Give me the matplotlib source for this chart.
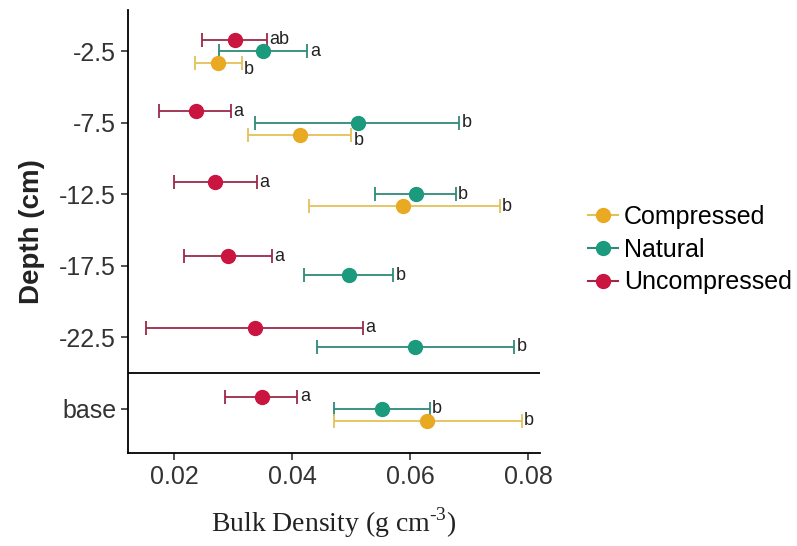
import numpy as np
import matplotlib
matplotlib.use('Agg')
import matplotlib.pyplot as plt
from matplotlib.lines import Line2D

nan = np.nan

depths = ['-2.5', '-7.5', '-12.5', '-17.5', '-22.5', 'base']
depth_pos = [-2.5, -7.5, -12.5, -17.5, -22.5, -27.5]

comp_mean = [0.0275, 0.0413, 0.0588, nan, nan, 0.0628]
comp_low = [0.0235, 0.0325, 0.0429, nan, nan, 0.0471]
comp_high = [0.0315, 0.0500, 0.0752, nan, nan, 0.0789]
comp_letters = ['b', 'b', 'b', '', '', 'b']

nat_mean = [0.0351, 0.0511, 0.0610, 0.0497, 0.0608, 0.0553]
nat_low = [0.0277, 0.0338, 0.0540, 0.0420, 0.0443, 0.0471]
nat_high = [0.0426, 0.0683, 0.0677, 0.0571, 0.0776, 0.0633]
nat_letters = ['a', 'b', 'b', 'b', 'b', 'b']

unc_mean = [0.0303, 0.0238, 0.0269, 0.0292, 0.0337, 0.0349]
unc_low = [0.0248, 0.0175, 0.0200, 0.0217, 0.0152, 0.0287]
unc_high = [0.0357, 0.0297, 0.0340, 0.0366, 0.0520, 0.0409]
unc_letters = ['ab', 'a', 'a', 'a', 'a', 'a']

x_ticks = [0.02, 0.04, 0.06, 0.08]

# (name, mean, low, high, letters, point colour, bar colour), top to bottom in each group
series = [
    ('Uncompressed', unc_mean, unc_low, unc_high, unc_letters, '#C9153F', '#9A2A4A'),
    ('Natural', nat_mean, nat_low, nat_high, nat_letters, '#1B9A7D', '#2E8A7A'),
    ('Compressed', comp_mean, comp_low, comp_high, comp_letters, '#E9A921', '#E3C15A'),
]

plt.rcParams['font.family'] = ['Liberation Sans', 'DejaVu Sans']

fig = plt.figure(figsize=(7.97, 5.46), dpi=100)
ax = fig.add_axes([0.1606, 0.1703, 0.5169, 0.8114])

for i, yc in enumerate(depth_pos):
    present = [s for s in series if not np.isnan(s[1][i])]
    n = len(present)
    step = 0.83 if n == 3 else 1.32
    for k, (name, m, lo, hi, let, pc, bc) in enumerate(present):
        y = yc + (n - 1) / 2 * step - k * step
        ax.errorbar([m[i]], [y], xerr=[[m[i] - lo[i]], [hi[i] - m[i]]],
                    fmt='none', ecolor=bc, elinewidth=1.3, capsize=5, capthick=1.3, zorder=2)
        ax.plot([m[i]], [y], 'o', color=pc, markersize=10, zorder=3)
        # push the letter down a bit if the bar above runs past it
        ty = y
        if k > 0 and present[k - 1][3][i] > hi[i]:
            ty = y - 0.4
        ax.text(hi[i] + 0.0004, ty, let[i], fontsize=13, va='center', ha='left', color='#222222')

ax.axhline(-25, color='black', linewidth=1.3)

ax.set_ylim(-30.6, 0.4)
ax.set_xlim(0.0122, 0.082)
ax.set_yticks(depth_pos)
ax.set_yticklabels(depths)
ax.set_xticks(x_ticks)
ax.set_xticklabels(['%.2f' % v for v in x_ticks])
ax.tick_params(labelsize=18, length=5, width=1.1, colors='#222222', labelcolor='#333333')
for sp in ['top', 'right']:
    ax.spines[sp].set_visible(False)
for sp in ['left', 'bottom']:
    ax.spines[sp].set_linewidth(1.3)

ax.set_ylabel('Depth (cm)', fontsize=20, fontweight='bold', color='#222222', labelpad=10)
ax.set_xlabel('Bulk Density (g cm$^{\\mathregular{\u20103}}$)', fontsize=20,
              family='Liberation Serif', color='#222222', labelpad=12)

handles = [Line2D([], [], color=s[6], marker='o', markerfacecolor=s[5], markeredgecolor=s[5],
                  markersize=10, linewidth=1.5) for s in reversed(series)]
labels = [s[0] for s in reversed(series)]
fig.legend(handles, labels, loc='center left', bbox_to_anchor=(0.725, 0.543), frameon=False,
           fontsize=18, handlelength=1.2, handletextpad=0.25, labelspacing=0.35, borderaxespad=0)

fig.savefig('out.png', dpi=100)
